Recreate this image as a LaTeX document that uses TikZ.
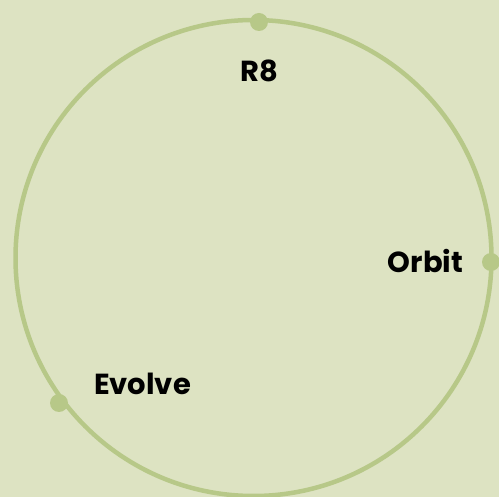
\documentclass[tikz,border=0pt]{standalone}
\usepackage{fontspec}
\setmainfont{Poppins}
\definecolor{bg}{HTML}{DDE3C2}
\definecolor{ring}{HTML}{B7C888}
\tikzset{
  lbl/.style={font=\fontsize{29}{32}\selectfont\bfseries, text=black, inner sep=0pt},
  dot/.style={circle, fill=ring, minimum size=18pt, inner sep=0pt}
}
\begin{document}
\begin{tikzpicture}[x=1pt,y=-1pt]
\fill[bg] (0,0) rectangle (499,497);
\useasboundingbox (0,0) rectangle (499,497);
\coordinate (c) at (253.5,258);
\draw[ring, line width=4.5pt] (c) circle[radius=238];
\node[dot] (d1) at (259,22) {};
\node[dot] (d2) at (491,262) {};
\node[dot] (d3) at (59,403) {};
\node[lbl] (r8) at (259,71) {R8};
\node[lbl] (orbit) at (425.5,261) {Orbit};
\node[lbl] (evolve) at (142.5,384) {Evolve};
\end{tikzpicture}
\end{document}
